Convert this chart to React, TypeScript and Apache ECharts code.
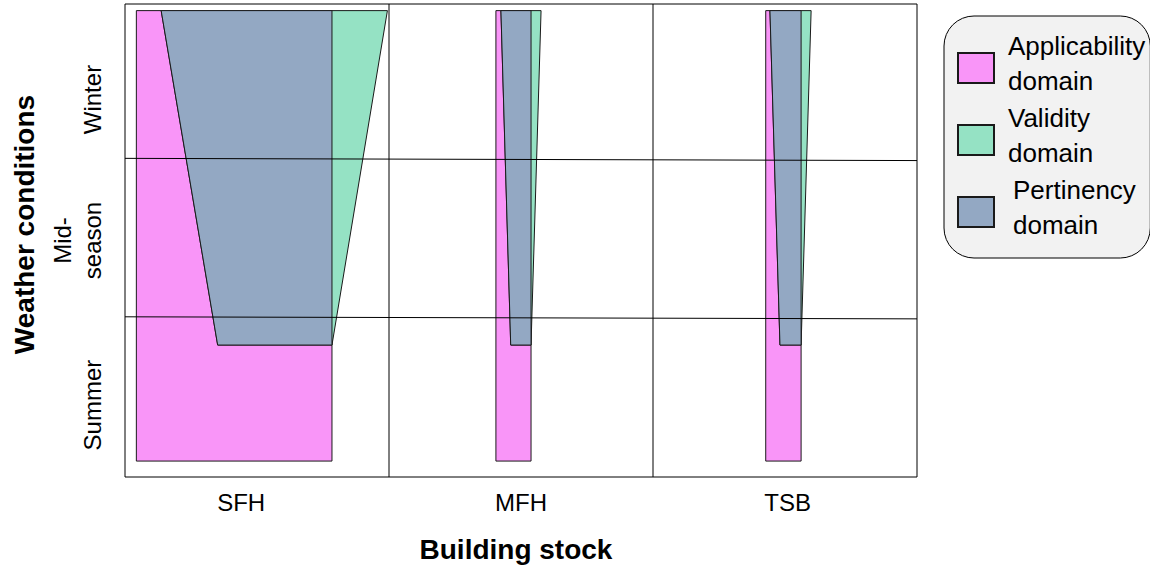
import React, { useEffect, useRef } from "react";
import * as echarts from "echarts";

// ---- data (axis units: x 0..300, 100 per building type; y 0..300, 100 per season band) ----
const categories = ["SFH", "MFH", "TSB"];
const categoryLabelPos = [44, 150, 251];
const seasons = ["Summer", "Mid-\nseason", "Winter"];
const seasonLabelPos = [45.6, 150, 239.4];
const domainNames = ["Applicability domain", "Validity domain", "Pertinency domain"];
const domainColors = ["#F995F8", "#95E2C4", "#93A8C3"];

const domainTop = 295.8;
const applicabilityBottom = 10.1;
const pertinencyBottom = 83.7;
const applicabilityLeft = [4.3, 140.5, 242.7];
const applicabilityRight = [78.4, 153.8, 256.1];
const pertinencyTopLeft = [13.7, 142.4, 244.3];
const pertinencyBottomLeft = [35.1, 146.1, 248.1];
const validityTopRight = [99.4, 157.6, 259.9];

const seasonBoundaryUpper = [[0, 202.1], [300, 200.7]];
const seasonBoundaryLower = [[0, 101.6], [300, 100.3]];
const buildingBoundaries = [100, 200];

const applicabilityPolys = categories.map((_, i) => [
  [applicabilityLeft[i], applicabilityBottom],
  [applicabilityRight[i], applicabilityBottom],
  [applicabilityRight[i], domainTop],
  [applicabilityLeft[i], domainTop],
]);
const validityPolys = categories.map((_, i) => [
  [pertinencyTopLeft[i], domainTop],
  [validityTopRight[i], domainTop],
  [applicabilityRight[i], pertinencyBottom],
  [pertinencyBottomLeft[i], pertinencyBottom],
]);
const pertinencyPolys = categories.map((_, i) => [
  [pertinencyTopLeft[i], domainTop],
  [applicabilityRight[i], domainTop],
  [applicabilityRight[i], pertinencyBottom],
  [pertinencyBottomLeft[i], pertinencyBottom],
]);
const allPolys = [applicabilityPolys, validityPolys, pertinencyPolys];

const FONT = "'Liberation Sans', Arial, Helvetica, sans-serif";

export default function App() {
  const ref = useRef<HTMLDivElement>(null);
  useEffect(() => {
    if (!ref.current) return;
    const chart = echarts.init(ref.current, null, { renderer: "svg" });

    const polySeries = allPolys.map((polys, k) => ({
      type: "custom",
      name: domainNames[k],
      clip: true,
      silent: true,
      itemStyle: { color: domainColors[k], borderColor: "#1a1a1a", borderWidth: 1 },
      data: polys.map((p) => p[0]),
      renderItem: (params: any, api: any) => {
        const pts = polys[params.dataIndex].map((p) => api.coord(p));
        return {
          type: "polygon",
          shape: { points: pts },
          style: { fill: domainColors[k], stroke: "#1a1a1a", lineWidth: 1 },
        };
      },
    }));

    const lineStyle = { color: "#000", width: 1 };
    const lineSeries: any[] = [
      { data: seasonBoundaryUpper },
      { data: seasonBoundaryLower },
      ...buildingBoundaries.map((b) => ({ data: [[b, 0], [b, 300]] })),
    ].map((s) => ({
      type: "line",
      data: s.data,
      symbol: "none",
      silent: true,
      lineStyle,
      z: 5,
    }));

    const legendRich = {
      n: { fontSize: 26, lineHeight: 35, color: "#000", fontFamily: FONT },
      p: { fontSize: 26, lineHeight: 35, color: "#000", fontFamily: FONT, padding: [0, 0, 0, 5] },
    };

    chart.setOption({
      animation: false,
      textStyle: { fontFamily: FONT },
      grid: {
        left: 125,
        top: 4,
        right: 233,
        bottom: 89,
        show: true,
        borderColor: "#000",
        borderWidth: 1,
        backgroundColor: "transparent",
      },
      xAxis: {
        type: "value",
        min: 0,
        max: 300,
        splitLine: { show: false },
        axisLine: { show: false },
        axisTick: { show: false },
        axisLabel: {
          customValues: categoryLabelPos,
          formatter: (v: number) => {
            const i = categoryLabelPos.indexOf(v);
            return i >= 0 ? categories[i] : "";
          },
          fontSize: 24,
          lineHeight: 28,
          color: "#000",
          margin: 11,
          fontFamily: FONT,
        },
        name: "Building stock",
        nameLocation: "middle",
        nameGap: 58,
        nameTextStyle: {
          fontSize: 28,
          fontWeight: "bold",
          color: "#000",
          lineHeight: 28,
          padding: [0, 10, 0, 0],
          fontFamily: FONT,
        },
      },
      yAxis: {
        type: "value",
        min: 0,
        max: 300,
        splitLine: { show: false },
        axisLine: { show: false },
        axisTick: { show: false },
        axisLabel: {
          customValues: seasonLabelPos,
          formatter: (v: number) => {
            const i = seasonLabelPos.indexOf(v);
            return i >= 0 ? seasons[i] : "";
          },
          rotate: 90,
          fontSize: 24,
          lineHeight: 30,
          color: "#000",
          margin: 18,
          fontFamily: FONT,
        },
        name: "Weather conditions",
        nameLocation: "middle",
        nameGap: 87,
        nameTextStyle: {
          fontSize: 28,
          fontWeight: "bold",
          color: "#000",
          lineHeight: 28,
          padding: [0, 0, 0, 32],
          fontFamily: FONT,
        },
      },
      legend: {
        orient: "vertical",
        left: 944,
        top: 16,
        padding: [12, 5, 6, 13],
        itemGap: -8,
        itemWidth: 36,
        itemHeight: 30,
        icon: "rect",
        backgroundColor: "#F2F2F2",
        borderColor: "#000",
        borderWidth: 1,
        borderRadius: 30,
        data: domainNames,
        selectedMode: false,
        formatter: (name: string) => {
          const [a, b] = name.split(" ");
          const tag = name.startsWith("Pertinency") ? "p" : "n";
          return `{${tag}|${a}}\n{${tag}|${b}}`;
        },
        textStyle: {
          fontSize: 26,
          lineHeight: 35,
          color: "#000",
          padding: [0, 0, 10, 9],
          fontFamily: FONT,
          rich: legendRich,
        },
      },
      series: [...polySeries, ...lineSeries],
    });
    return () => chart.dispose();
  }, []);
  return (
    <div
      ref={ref}
      style={{ position: "fixed", left: 0, top: 0, width: 1150, height: 568, background: "#fff" }}
    />
  );
}
